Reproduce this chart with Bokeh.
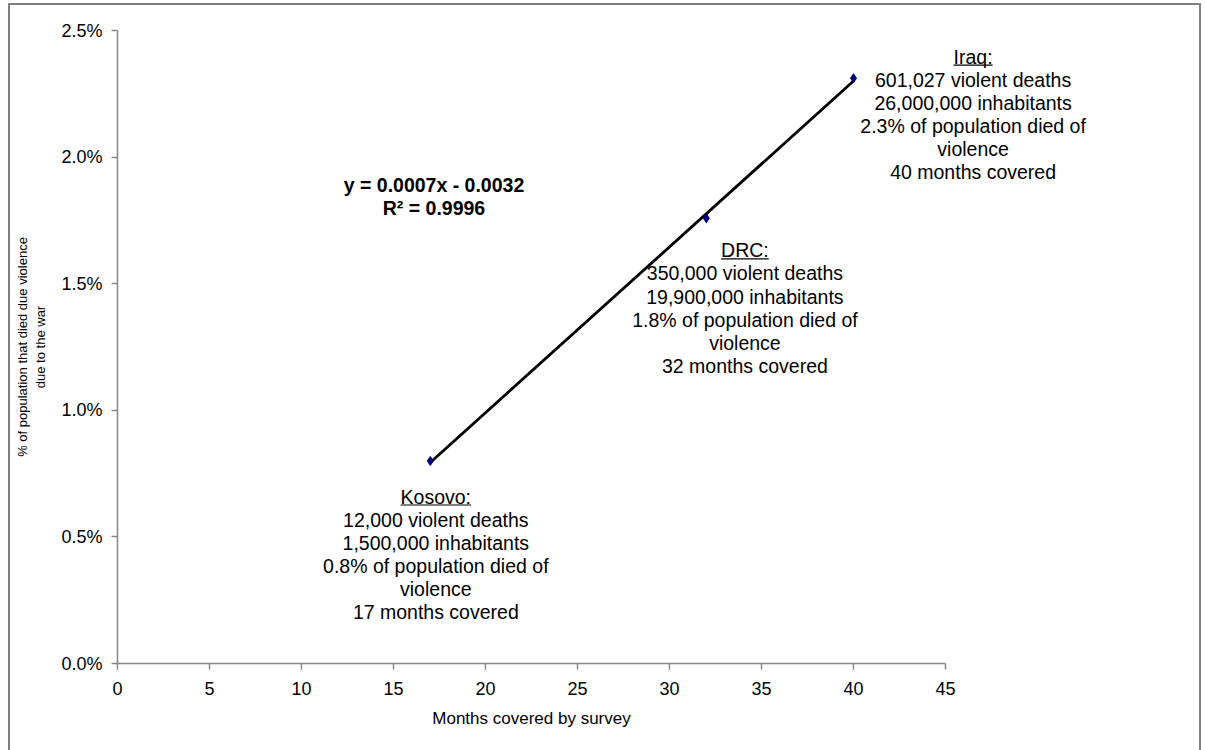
import numpy as np
from bokeh.plotting import figure
from bokeh.models import Label, NumeralTickFormatter, FixedTicker, Title
from bokeh.embed import file_html
from bokeh.resources import INLINE

# ---- data ----
countries = ["Kosovo", "DRC", "Iraq"]
months = [17, 32, 40]
deaths = [12000, 350000, 601027]
inhabitants = [1500000, 19900000, 26000000]
share = [d / i for d, i in zip(deaths, inhabitants)]

x_ticks = [0, 5, 10, 15, 20, 25, 30, 35, 40, 45]
y_ticks = [0.0, 0.005, 0.01, 0.015, 0.02, 0.025]

eq_text = "y = 0.0007x - 0.0032"
r2_text = "R\u00b2 = 0.9996"
x_title = "Months covered by survey"
y_title = "% of population that died due violence\ndue to the war"

kosovo_lines = ["Kosovo:", "12,000 violent deaths", "1,500,000 inhabitants",
                "0.8% of population died of", "violence", "17 months covered"]
drc_lines = ["DRC:", "350,000 violent deaths", "19,900,000 inhabitants",
             "1.8% of population died of", "violence", "32 months covered"]
iraq_lines = ["Iraq:", "601,027 violent deaths", "26,000,000 inhabitants",
              "2.3% of population died of", "violence", "40 months covered"]

# annotation anchors (data coords: months, share) - top-centre of each block
kosovo_anchor = (17.3, 0.00703)
drc_anchor = (34.1, 0.01675)
iraq_anchor = (46.5, 0.02440)
eq_anchor = (17.2, 0.01935)

FONT = "Liberation Sans"
TXT_PX = 19.5
TITLE_PX = 17

PX_PER_MONTH = 18.4
FRAME_W = 1082
FRAME_H = 633
x_end = FRAME_W / PX_PER_MONTH
y_end = 0.025
PX_PER_SHARE = FRAME_H / y_end

# Arial advance widths (em) used to centre / underline some texts
EM = {"K": .667, "o": .556, "s": .5, "v": .5, ":": .278, "D": .722, "R": .722,
      "C": .722, "I": .278, "r": .333, "a": .556, "q": .556, "M": .833, "n": .556,
      "t": .278, "h": .556, " ": .278, "c": .5, "e": .556, "d": .556, "b": .556,
      "y": .5, "u": .556}

def text_width(s, px):
    return sum(EM.get(c, .556) for c in s) * px

p = figure(frame_width=FRAME_W, frame_height=FRAME_H, x_range=(0, x_end), y_range=(0, y_end),
           min_border_left=107, min_border_top=25, min_border_right=0, min_border_bottom=87,
           output_backend="svg", toolbar_location=None,
           margin=(3, 0, 0, 8),
           styles={"border-left": "2px solid #808080",
                   "border-top": "2px solid #808080",
                   "border-right": "2px solid #808080"})
p.outline_line_color = None
p.xgrid.visible = False
p.ygrid.visible = False
p.background_fill_color = "white"
p.border_fill_color = "white"

for ax in (p.xaxis, p.yaxis):
    ax.axis_line_color = "#868686"
    ax.axis_line_width = 1.5
    ax.major_tick_line_color = "#868686"
    ax.major_tick_line_width = 1.5
    ax.major_tick_out = 6
    ax.major_tick_in = 0
    ax.minor_tick_line_color = None
    ax.major_label_text_font = FONT
    ax.major_label_text_color = "black"
    ax.axis_label_text_font = FONT
    ax.axis_label_text_font_style = "normal"
    ax.axis_label_text_color = "black"

p.xaxis.bounds = (0, 45)
p.yaxis.bounds = (0, y_end)
p.xaxis.ticker = FixedTicker(ticks=x_ticks)
p.yaxis.ticker = FixedTicker(ticks=y_ticks)
p.yaxis.formatter = NumeralTickFormatter(format="0.0%")
p.xaxis.major_label_text_font_size = "18px"
p.yaxis.major_label_text_font_size = "18px"
p.xaxis.major_label_standoff = 12
p.yaxis.major_label_standoff = 9

p.yaxis.axis_label = y_title
p.yaxis.axis_label_text_font_size = "13px"
p.yaxis.axis_label_standoff = 10

# x-axis title centred under the 0-45 axis (frame extends further right for the notes)
axis_mid = (x_ticks[0] + x_ticks[-1]) / 2
title_left = axis_mid * PX_PER_MONTH - text_width(x_title, TITLE_PX) / 2
p.add_layout(Title(text=x_title, align="left", offset=title_left,
                   text_font=FONT, text_font_size=f"{TITLE_PX}px", text_font_style="normal",
                   text_color="black", standoff=19), "below")

# trend line (least squares) over the data range
slope, intercept = np.polyfit(months, share, 1)
xs = [min(months), max(months)]
p.line(xs, [slope * x + intercept for x in xs], line_color="black", line_width=2.8)

p.scatter(months, share, marker="diamond", size=9, color="#000080")

def block(lines, anchor, bold=False, underline_first=False):
    lab = Label(x=anchor[0], y=anchor[1], text="\n".join(lines),
                text_align="center", text_baseline="top",
                text_font=FONT, text_font_size=f"{TXT_PX}px", text_color="black",
                text_line_height=1.05,
                text_font_style="bold" if bold else "normal")
    p.add_layout(lab)
    if underline_first:
        half = text_width(lines[0], TXT_PX) / 2 / PX_PER_MONTH
        uy = anchor[1] - (TXT_PX * 1.0) / PX_PER_SHARE
        p.segment(x0=[anchor[0] - half], y0=[uy], x1=[anchor[0] + half], y1=[uy],
                  line_color="black", line_width=1.2)

block(kosovo_lines, kosovo_anchor, underline_first=True)
block(drc_lines, drc_anchor, underline_first=True)
block(iraq_lines, iraq_anchor, underline_first=True)
block([eq_text, r2_text], eq_anchor, bold=True)

open("out.html", "w").write(file_html(p, INLINE))
